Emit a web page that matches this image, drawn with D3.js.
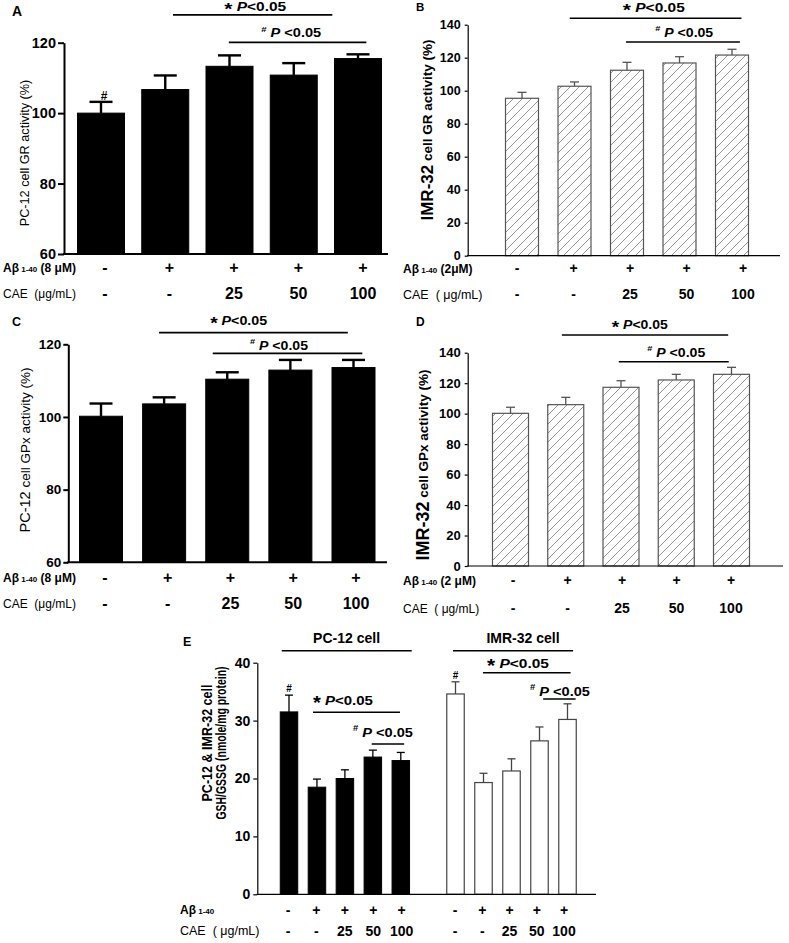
<!DOCTYPE html>
<html><head><meta charset="utf-8">
<script src="https://cdn.jsdelivr.net/npm/d3@7"></script>
<style>
body{margin:0;background:#fff}
svg{display:block}
text{font-family:Arial,"Liberation Sans",sans-serif;white-space:pre}
</style>
</head><body>
<svg id="chart" width="789" height="943"></svg>
<script>
// ---------------- DATA ----------------
const groups = ["Control", "Abeta", "Abeta+CAE25", "Abeta+CAE50", "Abeta+CAE100"];
const abetaRow = ["-", "+", "+", "+", "+"];
const caeRow = ["-", "-", "25", "50", "100"];

const grPC12 = [100.0, 106.7, 113.3, 110.8, 115.5];
const grPC12Err = [3.2, 4.0, 3.1, 3.4, 1.2];
const grIMR32 = [95.4, 102.7, 112.4, 116.8, 121.6];
const grIMR32Err = [3.6, 2.6, 4.8, 3.8, 3.5];
const gpxPC12 = [100.2, 103.6, 110.4, 112.9, 113.6];
const gpxPC12Err = [3.5, 1.8, 1.9, 2.8, 2.1];
const gpxIMR32 = [100.2, 105.9, 117.3, 122.1, 125.8];
const gpxIMR32Err = [4.0, 4.8, 4.3, 3.7, 4.6];
const gshPC12 = [31.5, 18.5, 20.0, 23.7, 23.1];
const gshPC12Err = [2.9, 1.4, 1.5, 1.2, 1.4];
const gshIMR32 = [34.6, 19.3, 21.3, 26.5, 30.2];
const gshIMR32Err = [2.1, 1.6, 2.1, 2.4, 2.7];

const ticksPC12 = [60, 80, 100, 120];
const ticksIMR32 = [0, 20, 40, 60, 80, 100, 120, 140];
const ticksGSH = [0, 10, 20, 30, 40];

// ---------------- DRAWING ----------------
const svg = d3.select("#chart");
const defs = svg.append("defs");
const pat = defs.append("pattern").attr("id", "hatch").attr("patternUnits", "userSpaceOnUse")
  .attr("width", 9).attr("height", 9);
pat.append("rect").attr("width", 9).attr("height", 9).attr("fill", "#fff");
pat.append("path").attr("d", "M-2,2 L2,-2 M0,9 L9,0 M7,11 L11,7")
  .attr("stroke", "#8a8a8a").attr("stroke-width", 0.9);

function drawBars(g, values, errs, x, y, base, st) {
  const w = st.barWidth;
  g.selectAll(null).data(values).join("rect")
    .attr("x", (d, i) => x(groups[i]) - w / 2)
    .attr("y", d => y(d))
    .attr("width", w)
    .attr("height", d => y(base) - y(d))
    .attr("fill", st.fill)
    .attr("stroke", st.stroke)
    .attr("stroke-width", st.strokeWidth);
  const eg = g.append("g").attr("stroke", st.errColor).attr("stroke-width", st.errWidth).attr("fill", "none");
  eg.selectAll(null).data(values).join("line")
    .attr("x1", (d, i) => x(groups[i])).attr("x2", (d, i) => x(groups[i]))
    .attr("y1", d => y(d)).attr("y2", (d, i) => y(d + errs[i]));
  eg.selectAll(null).data(values).join("line")
    .attr("x1", (d, i) => x(groups[i]) - st.cap / 2).attr("x2", (d, i) => x(groups[i]) + st.cap / 2)
    .attr("y1", (d, i) => y(d + errs[i])).attr("y2", (d, i) => y(d + errs[i]));
}

function fitWidth(gg, t, cx, baseline, targetW) {
  if (!targetW) return;
  const w = t.node().getComputedTextLength();
  if (w > 0) gg.attr("transform", `translate(${cx},${baseline}) scale(${targetW / w},1)`);
}

function sigText(g, kind, cx, baseline, fs, targetW) {
  const gg = g.append("g").attr("transform", `translate(${cx},${baseline})`);
  const t = gg.append("text").attr("x", 0).attr("y", 0).attr("text-anchor", "middle")
    .attr("font-weight", "bold").attr("font-size", fs).attr("fill", "#000");
  if (kind === "*") {
    t.append("tspan").attr("font-size", fs * 1.35).attr("dy", fs * 0.3).text("*");
    t.append("tspan").attr("dy", -fs * 0.3).text(" ");
    t.append("tspan").attr("font-style", "italic").text("P");
    t.append("tspan").text("<0.05");
  } else {
    t.append("tspan").attr("font-size", fs * 0.65).attr("dy", -fs * 0.45).text("#");
    t.append("tspan").attr("dy", fs * 0.45).text(" ");
    t.append("tspan").attr("font-style", "italic").text("P");
    t.append("tspan").text(" <0.05");
  }
  fitWidth(gg, t, cx, baseline, targetW);
}

function drawSig(g, xi, y, s, fs) {
  g.append("line").attr("x1", xi(s.from)).attr("x2", xi(s.to))
    .attr("y1", y(s.yv)).attr("y2", y(s.yv)).attr("stroke", "#000").attr("stroke-width", 1.6);
  if (s.label) {
    g.append("text").attr("x", xi(s.tx)).attr("y", y(s.yv) - s.gap).attr("text-anchor", "middle")
      .attr("font-weight", "bold").attr("font-size", fs).text(s.label);
  } else {
    sigText(g, s.kind, xi(s.tx), y(s.yv) - s.gap, fs, s.w);
  }
}

function drawYAxis(g, y, cfg) {
  const ax = d3.axisLeft(y).tickValues(cfg.ticks).tickSize(cfg.tickSize).tickSizeOuter(0)
    .tickPadding(cfg.tickPad).tickFormat(d3.format("d"));
  const a = g.append("g").attr("transform", `translate(${cfg.axisX},0)`).call(ax);
  a.select(".domain").attr("stroke", "#000").attr("stroke-width", cfg.axisWidth);
  a.selectAll(".tick line").attr("stroke", "#000").attr("stroke-width", cfg.axisWidth);
  a.selectAll(".tick text").attr("font-family", 'Arial,"Liberation Sans",sans-serif')
    .attr("font-weight", "bold").attr("font-size", cfg.tickFont).attr("fill", "#000");
  g.append("line").attr("x1", cfg.axisX - cfg.axisWidth / 2).attr("x2", cfg.xAxisEnd)
    .attr("y1", y(cfg.domain[0])).attr("y2", y(cfg.domain[0]))
    .attr("stroke", "#000").attr("stroke-width", cfg.axisWidth);
}

function drawRows(g, xl, cfg, abRow, cRow) {
  g.selectAll(null).data(abRow).join("text")
    .attr("x", (d, i) => xl(groups[i])).attr("y", cfg.rowY[0]).attr("text-anchor", "middle")
    .attr("font-weight", "bold").attr("font-size", cfg.valFont).text(d => d);
  g.selectAll(null).data(cRow).join("text")
    .attr("x", (d, i) => xl(groups[i])).attr("y", cfg.rowY[1]).attr("text-anchor", "middle")
    .attr("font-weight", "bold").attr("font-size", cfg.valFont).text(d => d);
}

function drawRowLabels(g, cfg) {
  const t = g.append("text").attr("x", cfg.rowLabelX).attr("y", cfg.rowLabelY[0])
    .attr("font-weight", "bold").attr("font-size", 12);
  t.append("tspan").text("Aβ");
  t.append("tspan").attr("font-size", 8).text(" 1-40");
  if (cfg.abDose) t.append("tspan").text(cfg.abDose);
  g.append("text").attr("x", cfg.rowLabelX).attr("y", cfg.rowLabelY[1])
    .attr("font-size", cfg.caeFont).text(cfg.caeLabel);
}

function drawPanel(cfg) {
  const g = svg.append("g");
  const y = d3.scaleLinear().domain(cfg.domain).range(cfg.yRange);
  const x = d3.scalePoint().domain(groups).range(cfg.barRange);
  const xi = d3.scaleLinear().domain([0, groups.length - 1]).range(cfg.barRange);
  const xl = d3.scalePoint().domain(groups).range(cfg.labelRange);
  drawBars(g, cfg.values, cfg.errs, x, y, cfg.domain[0], cfg.style);
  drawYAxis(g, y, cfg);
  cfg.sig.forEach(s => drawSig(g, xi, y, s, cfg.sigFont));
  if (cfg.hash) {
    cfg.hash.forEach(i => {
      g.append("text").attr("x", x(groups[i]) + (cfg.hashDx || 0)).attr("y", y(cfg.values[i] + cfg.errs[i]) - 2)
        .attr("text-anchor", "middle").attr("font-weight", "bold").attr("font-size", cfg.hashFont).text("#");
    });
  }
  drawRows(g, xl, cfg, abetaRow, caeRow);
  drawRowLabels(g, cfg);
  const yl = g.append("text").attr("transform", `translate(${cfg.ylabel.x},${cfg.ylabel.y}) rotate(-90)`)
    .attr("text-anchor", "middle").attr("dominant-baseline", "central");
  cfg.ylabel.parts.forEach(p => yl.append("tspan").attr("font-size", p.fs).attr("font-weight", p.bold ? "bold" : "normal").text(p.t));
  g.append("text").attr("x", cfg.letter.x).attr("y", cfg.letter.y).attr("font-weight", "bold")
    .attr("font-size", cfg.letter.fs).text(cfg.letter.t);
}

const blackStyle = {fill: "#000", stroke: "#000", strokeWidth: 1, errColor: "#000", errWidth: 2.4};
const hatchStyle = {fill: "url(#hatch)", stroke: "#555", strokeWidth: 1.2, errColor: "#555", errWidth: 1.3, cap: 9};

// Panel A
drawPanel({
  values: grPC12, errs: grPC12Err, domain: [60, 120], yRange: [254, 42.7], ticks: ticksPC12,
  axisX: 64, xAxisEnd: 388, axisWidth: 2, tickSize: 6, tickPad: 2, tickFont: 14.5,
  barRange: [101, 358], labelRange: [105, 363],
  style: Object.assign({}, blackStyle, {barWidth: 47, cap: 23}),
  sig: [{kind: "*", from: 1.12, to: 3.6, yv: 127.9, tx: 2.4, gap: 3.5, w: 62},
        {kind: "#", from: 1.99, to: 4.13, yv: 120.1, tx: 2.96, gap: 5, w: 60}],
  sigFont: 12.5, hash: [0], hashFont: 12, hashDx: 3,
  valFont: 16, rowY: [272.5, 298.5], rowLabelX: 3, rowLabelY: [271.5, 297.5],
  abDose: " (8 μM)", caeLabel: "CAE  (μg/mL)", caeFont: 12,
  ylabel: {x: 25, y: 153, parts: [{t: "PC-12 cell GR activity (%)", fs: 12.7}]},
  letter: {t: "A", x: 12, y: 15.5, fs: 14}
});

// Panel B
drawPanel({
  values: grIMR32, errs: grIMR32Err, domain: [0, 140], yRange: [255.7, 24.7], ticks: ticksIMR32,
  axisX: 467.7, xAxisEnd: 780, axisWidth: 1.2, tickSize: 3, tickPad: 4, tickFont: 12.5,
  barRange: [522, 732], labelRange: [517, 743],
  style: Object.assign({}, hatchStyle, {barWidth: 33}),
  sig: [{kind: "*", from: 0.91, to: 4.18, yv: 143.9, tx: 2.51, gap: 6.5, w: 62},
        {kind: "#", from: 1.98, to: 4.15, yv: 129.5, tx: 3.09, gap: 5, w: 58}],
  sigFont: 12.5,
  valFont: 14, rowY: [273, 299], rowLabelX: 403, rowLabelY: [272.5, 298.5],
  abDose: " (2μM)", caeLabel: "CAE  ( μg/mL)", caeFont: 12.5,
  ylabel: {x: 427, y: 130, parts: [{t: "IMR-32", fs: 17, bold: true}, {t: " cell GR activity (%)", fs: 13.5, bold: true}]},
  letter: {t: "B", x: 416, y: 10.5, fs: 11.5}
});

// Panel C
drawPanel({
  values: gpxPC12, errs: gpxPC12Err, domain: [60, 120], yRange: [562.3, 344.3], ticks: ticksPC12,
  axisX: 68.3, xAxisEnd: 387, axisWidth: 2, tickSize: 5, tickPad: 2, tickFont: 13.5,
  barRange: [101, 353.5], labelRange: [105, 356],
  style: Object.assign({}, blackStyle, {barWidth: 43, cap: 23}),
  sig: [{kind: "*", from: 0.92, to: 3.91, yv: 123.2, tx: 2.18, gap: 7.5, w: 57},
        {kind: "#", from: 1.77, to: 4.14, yv: 117.5, tx: 2.82, gap: 3.5, w: 58}],
  sigFont: 12.5,
  valFont: 16, rowY: [582.5, 608.5], rowLabelX: 3, rowLabelY: [581.5, 607.5],
  abDose: " (8 μM)", caeLabel: "CAE  (μg/mL)", caeFont: 12,
  ylabel: {x: 25, y: 450, parts: [{t: "PC-12", fs: 14.5}, {t: " cell GPx activity (%)", fs: 13.5}]},
  letter: {t: "C", x: 12, y: 326, fs: 12.5}
});

// Panel D
drawPanel({
  values: gpxIMR32, errs: gpxIMR32Err, domain: [0, 140], yRange: [566, 352.7], ticks: ticksIMR32,
  axisX: 467.7, xAxisEnd: 783, axisWidth: 1.2, tickSize: 3, tickPad: 4, tickFont: 13,
  barRange: [510.5, 731.5], labelRange: [513, 731],
  style: Object.assign({}, hatchStyle, {barWidth: 36}),
  sig: [{kind: "*", from: 0.93, to: 3.94, yv: 151.6, tx: 2.34, gap: 6, w: 56},
        {kind: "#", from: 1.96, to: 3.95, yv: 134.1, tx: 3.0, gap: 5, w: 58}],
  sigFont: 12.5,
  valFont: 14, rowY: [585, 613], rowLabelX: 403, rowLabelY: [584.5, 612.5],
  abDose: " (2 μM)", caeLabel: "CAE  ( μg/mL)", caeFont: 12,
  ylabel: {x: 423, y: 465, parts: [{t: "IMR-32", fs: 18, bold: true}, {t: " cell GPx activity (%)", fs: 13.5, bold: true}]},
  letter: {t: "D", x: 416, y: 325.5, fs: 12}
});

// Panel E
(function () {
  const g = svg.append("g");
  const cfg = {domain: [0, 40], ticks: ticksGSH, axisX: 257.3, xAxisEnd: 596, axisWidth: 1.2,
    tickSize: 4, tickPad: 3, tickFont: 14, valFont: 14};
  const y = d3.scaleLinear().domain([0, 40]).range([894.3, 662.7]);
  const xPC = d3.scalePoint().domain(groups).range([289, 400.8]);
  const xIMR = d3.scalePoint().domain(groups).range([455.5, 567.5]);
  const xiPC = d3.scaleLinear().domain([0, 4]).range([289, 400.8]);
  const xiIMR = d3.scaleLinear().domain([0, 4]).range([455.5, 567.5]);
  drawBars(g, gshPC12, gshPC12Err, xPC, y, 0,
    {barWidth: 17.5, fill: "#000", stroke: "#000", strokeWidth: 1, errColor: "#000", errWidth: 1.3, cap: 8});
  drawBars(g, gshIMR32, gshIMR32Err, xIMR, y, 0,
    {barWidth: 17.5, fill: "#fff", stroke: "#444", strokeWidth: 1.2, errColor: "#444", errWidth: 1.3, cap: 8});
  drawYAxis(g, y, cfg);
  drawSig(g, xiPC, y, {label: "PC-12 cell", from: -0.26, to: 4.39, yv: 42.07, tx: 2.06, gap: 7.7}, 14);
  drawSig(g, xiIMR, y, {label: "IMR-32 cell", from: -0.09, to: 4.2, yv: 42.07, tx: 2.41, gap: 7.7}, 14);
  drawSig(g, xiPC, y, {kind: "*", from: 0.86, to: 3.97, yv: 31.43, tx: 1.93, gap: 7.3, w: 60}, 13.5);
  drawSig(g, xiPC, y, {kind: "#", from: 2.96, to: 4.12, yv: 25.96, tx: 3.36, gap: 7.3, w: 60}, 13.5);
  drawSig(g, xiIMR, y, {kind: "*", from: 0.98, to: 4.11, yv: 38.27, tx: 2.23, gap: 4.7, w: 62}, 13.5);
  drawSig(g, xiIMR, y, {kind: "#", from: 3.13, to: 4.29, yv: 33.73, tx: 3.73, gap: 3, w: 60}, 13.5);
  [[xPC, gshPC12, gshPC12Err], [xIMR, gshIMR32, gshIMR32Err]].forEach(([xs, v, e]) => {
    g.append("text").attr("x", xs(groups[0])).attr("y", y(v[0] + e[0]) - 3)
      .attr("text-anchor", "middle").attr("font-weight", "bold").attr("font-size", 10).text("#");
  });
  const rc = {rowY: [915, 936], valFont: 14};
  drawRows(g, d3.scalePoint().domain(groups).range([288, 401.7]), rc, abetaRow, caeRow);
  drawRows(g, d3.scalePoint().domain(groups).range([455, 564]), rc, abetaRow, caeRow);
  drawRowLabels(g, {rowLabelX: 180, rowLabelY: [914, 934.5], abDose: "", caeLabel: "CAE  ( μg/mL)", caeFont: 12.5});
  g.append("text").attr("transform", "translate(207,743) rotate(-90)")
    .attr("text-anchor", "middle").attr("dominant-baseline", "central")
    .attr("font-weight", "bold").attr("font-size", 14)
    .attr("textLength", 117).attr("lengthAdjust", "spacingAndGlyphs").text("PC-12 & IMR-32 cell");
  g.append("text").attr("transform", "translate(221,743) rotate(-90)")
    .attr("text-anchor", "middle").attr("dominant-baseline", "central")
    .attr("font-weight", "bold").attr("font-size", 14)
    .attr("textLength", 153).attr("lengthAdjust", "spacingAndGlyphs").text("GSH/GSSG (nmole/mg protein)");
  g.append("text").attr("x", 183).attr("y", 646).attr("font-weight", "bold").attr("font-size", 12.5).text("E");
})();
</script>
</body></html>
